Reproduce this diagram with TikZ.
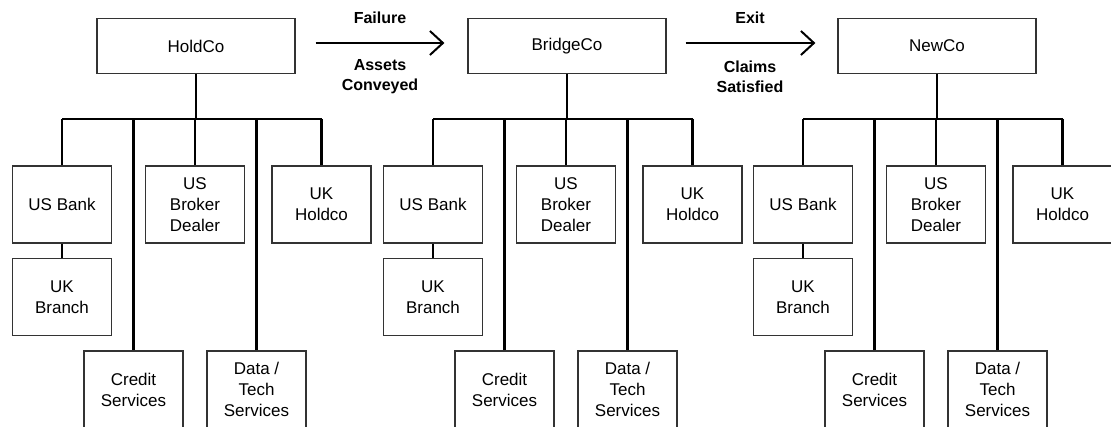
\documentclass[tikz,border=0pt]{standalone}
\usepackage{fontspec}
\setmainfont{Liberation Sans}
\usetikzlibrary{positioning,arrows.meta}

\begin{document}
\begin{tikzpicture}[
        x=1pt, y=-1pt,
        entity/.style={draw=black!80, line width=1.2pt, inner sep=0pt, align=center,
            font=\fontsize{17}{21}\selectfont},
        topbox/.style={entity, minimum width=198pt, minimum height=55pt},
        unitbox/.style={entity, minimum width=99pt, minimum height=77pt},
        link/.style={line width=2.5pt},
        transfer/.style={line width=2pt, -{Straight Barb[length=13pt, width=24pt, line width=2pt]}},
        arrow label/.style={align=center, font=\bfseries\fontsize{16}{20}\selectfont}
    ]

    \useasboundingbox (0,0) rectangle (1111,427);
    \clip (0,0) rectangle (1111,427);

    % Define vertical positions shared by all three groups
    \def\topy{46}
    \def\busy{119}
    \def\rowa{204.5}
    \def\rowb{297}
    \def\rowc{389.5}

    % One group per entity: HoldCo, BridgeCo, NewCo
    \foreach \g/\name/\off in {h/HoldCo/0, b/BridgeCo/371, n/NewCo/741} {
        \node[topbox] (\g-top) at (\off+196, \topy) {\name};

        % Subsidiaries
        \node[unitbox] (\g-usbank) at (\off+62, \rowa) {US Bank};
        \node[unitbox] (\g-broker) at (\off+195, \rowa) {US\\Broker\\Dealer};
        \node[unitbox] (\g-ukhold) at (\off+321.5, \rowa) {UK\\Holdco};
        \node[unitbox] (\g-branch) at (\off+62, \rowb) {UK\\Branch};
        \node[unitbox] (\g-credit) at (\off+133.5, \rowc) {Credit\\Services};
        \node[unitbox] (\g-data) at (\off+256.5, \rowc) {Data /\\Tech\\Services};

        % Draw the connecting lines
        \coordinate (\g-bus) at (\off+196, \busy);
        \draw[link] (\g-top) -- (\g-bus);
        \draw[link] (\g-bus -| \g-usbank) -- (\g-bus -| \g-ukhold);
        \draw[link] (\g-bus -| \g-usbank) -- (\g-usbank);
        \draw[link] (\g-bus -| \g-credit) -- (\g-credit);
        \draw[link] (\g-bus -| \g-broker) -- (\g-broker);
        \draw[link] (\g-bus -| \g-data) -- (\g-data);
        \draw[link] (\g-bus -| \g-ukhold) -- (\g-ukhold);
        \draw[link] (\g-usbank) -- (\g-branch);
    }

    % Transitions between the groups
    \draw[transfer] ([xshift=20pt, yshift=3pt]h-top.east) -- ([xshift=-23pt, yshift=3pt]b-top.west);
    \node[arrow label] (fail) at (380, 18) {Failure};
    \node[arrow label] (assets) at (380, 77) {Assets\\Conveyed};

    \draw[transfer] ([xshift=19pt, yshift=3pt]b-top.east) -- ([xshift=-22pt, yshift=3pt]n-top.west);
    \node[arrow label] (exit) at (750, 18) {Exit};
    \node[arrow label] (claims) at (750, 77) {Claims\\Satisfied};

\end{tikzpicture}
\end{document}
